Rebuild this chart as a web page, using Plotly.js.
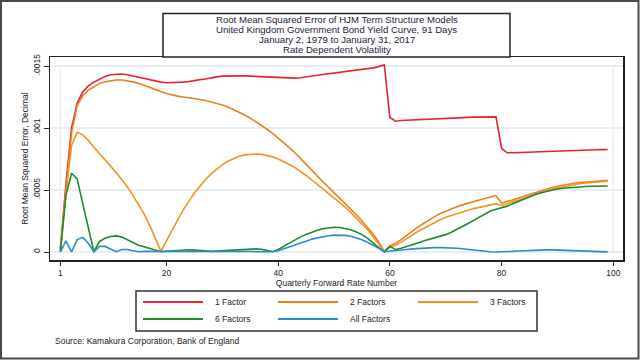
<!DOCTYPE html>
<html><head><meta charset="utf-8">
<script src="https://cdn.plot.ly/plotly-3.0.1.min.js"></script>
<style>html,body{margin:0;padding:0;background:#fff}#chart{width:640px;height:360px}</style>
</head><body><div id="chart"></div>
<script>
// Quarterly forward rate number (category index 1..99)
const forwardRate = Array.from({length: 99}, (_, i) => i + 1);
// RMSE values, in units of 1e-4
const UNIT = 1e-4;
const oneFactor = [0.2,5.5,10.0,12.0,12.9,13.4,13.7,13.95,14.15,14.3,
14.35,14.35,14.3,14.2,14.1,14.0,13.85,13.75,13.7,13.65,
13.65,13.65,13.7,13.75,13.85,13.9,13.95,14.05,14.12,14.18,
14.2,14.2,14.2,14.2,14.18,14.15,14.12,14.1,14.08,14.05,
14.03,14.02,14.02,14.05,14.1,14.18,14.25,14.32,14.38,14.45,
14.5,14.55,14.6,14.65,14.7,14.78,14.85,14.95,15.1,10.85,
10.55,10.6,10.62,10.65,10.68,10.7,10.74,10.77,10.8,10.82,
10.84,10.85,10.86,10.87,10.88,10.88,10.89,10.9,10.9,8.35,
8.0,8.0,8.02,8.04,8.06,8.08,8.1,8.12,8.14,8.16,
8.18,8.2,8.21,8.22,8.23,8.24,8.25,8.26,8.27];
const twoFactors = [0.2,5.0,9.6,11.8,12.6,13.05,13.35,13.58,13.73,13.83,
13.87,13.87,13.82,13.72,13.6,13.45,13.3,13.12,12.95,12.78,
12.65,12.57,12.5,12.45,12.38,12.3,12.22,12.12,12.0,11.86,
11.7,11.5,11.28,11.05,10.8,10.52,10.22,9.9,9.56,9.2,
8.82,8.42,8.0,7.56,7.1,6.6,6.12,5.68,5.25,4.82,
4.38,3.93,3.48,3.0,2.5,2.0,1.45,0.8,0.05,0.5,
0.7,1.0,1.35,1.7,2.0,2.3,2.6,2.85,3.1,3.3,
3.5,3.65,3.8,3.95,4.08,4.2,4.32,4.44,4.55,3.95,
4.05,4.2,4.35,4.5,4.65,4.8,4.95,5.08,5.2,5.3,
5.4,5.48,5.55,5.6,5.65,5.69,5.72,5.74,5.76];
const threeFactors = [0.2,4.8,8.6,9.65,9.45,9.0,8.45,7.95,7.45,6.95,
6.4,5.85,5.25,4.55,3.85,3.05,2.15,1.1,0.05,0.9,
1.8,2.6,3.4,4.1,4.75,5.3,5.85,6.3,6.7,7.05,
7.32,7.55,7.72,7.83,7.89,7.9,7.87,7.8,7.67,7.5,
7.3,7.06,6.8,6.5,6.17,5.82,5.46,5.1,4.75,4.4,
4.02,3.62,3.2,2.76,2.3,1.8,1.25,0.65,0.03,0.4,
0.55,0.8,1.1,1.4,1.65,1.9,2.15,2.4,2.6,2.8,
2.95,3.1,3.25,3.4,3.5,3.6,3.7,3.8,3.9,3.75,
3.9,4.05,4.2,4.35,4.5,4.65,4.8,4.95,5.05,5.15,
5.25,5.35,5.43,5.5,5.56,5.61,5.65,5.68,5.7];
const sixFactors = [0.0,4.6,6.35,5.9,3.9,1.95,0.02,0.85,1.1,1.25,
1.3,1.2,0.98,0.72,0.55,0.42,0.28,0.14,0.02,0.06,
0.1,0.14,0.16,0.18,0.15,0.1,0.06,0.05,0.07,0.1,
0.13,0.16,0.19,0.21,0.24,0.25,0.22,0.12,0.03,0.2,
0.45,0.75,1.0,1.22,1.42,1.6,1.75,1.87,1.96,2.0,
1.98,1.92,1.8,1.62,1.4,1.1,0.75,0.38,0.0,0.45,
0.2,0.3,0.42,0.55,0.72,0.88,1.0,1.12,1.24,1.4,
1.6,1.82,2.05,2.3,2.55,2.8,3.05,3.3,3.45,3.55,
3.7,3.9,4.1,4.3,4.48,4.64,4.78,4.9,5.0,5.08,
5.14,5.19,5.23,5.26,5.28,5.3,5.31,5.32,5.32];
const allFactors = [0.0,0.9,0.0,1.0,1.18,0.7,0.0,0.45,0.45,0.25,
0.03,0.2,0.2,0.1,0.02,0.05,0.06,0.05,0.02,0.04,
0.05,0.05,0.04,0.03,0.03,0.04,0.05,0.05,0.04,0.04,
0.05,0.05,0.05,0.05,0.04,0.03,0.03,0.02,0.02,0.1,
0.25,0.43,0.6,0.76,0.9,1.03,1.14,1.24,1.31,1.36,
1.37,1.34,1.27,1.15,0.98,0.78,0.55,0.3,0.02,0.05,
0.1,0.15,0.2,0.25,0.29,0.32,0.34,0.35,0.35,0.35,
0.33,0.3,0.26,0.2,0.15,0.1,0.05,0.02,0.0,0.0,
0.02,0.05,0.08,0.11,0.13,0.15,0.16,0.17,0.17,0.16,
0.15,0.14,0.12,0.1,0.08,0.06,0.04,0.02,0.01];

const seriesNames = ['1 Factor', '2 Factors', '3 Factors', '6 Factors', 'All Factors'];
const seriesData = [oneFactor, twoFactors, threeFactors, sixFactors, allFactors];
const seriesColors = ['#e8232b', '#ee7f1d', '#f7921f', '#1f8a2a', '#2a8dc6'];

const titleLines = ['Root Mean Squared Error of HJM Term Structure Models',
  'United Kingdom Government Bond Yield Curve, 91 Days',
  'January 2, 1979 to January 31, 2017',
  'Rate Dependent Volatility'];
const xTitle = 'Quarterly Forward Rate Number';
const yTitle = 'Root Mean Squared Error, Decimal';
const sourceNote = 'Source: Kamakura Corporation, Bank of England';
const xTickVals = [1, 20, 40, 60, 80, 100];
const xTickText = ['1', '20', '40', '60', '80', '100'];
const yTickVals = [0, 0.0005, 0.001, 0.0015];
const yTickText = ['0', '.0005', '.001', '.0015'];

// ---- geometry (pixels) ----
const W = 640, H = 360, L = 50, R = 623, T = 57, B = 260;
const px = X => (X - L) / (R - L);
const py = Y => (B - Y) / (B - T);
const FONT = 'Liberation Sans, Arial, sans-serif';
const TXT = '#222';

const traces = seriesData.map((d, i) => ({
  type: 'scatter', mode: 'lines', name: seriesNames[i],
  x: forwardRate, y: d.map(v => v * UNIT),
  line: {color: seriesColors[i], width: 1.6},
  showlegend: false, hoverinfo: 'skip'
}));

const shapes = [];
const annotations = [];
// outer frame
shapes.push({type: 'rect', xref: 'paper', yref: 'paper', x0: px(1), x1: px(638.5), y0: py(358.5), y1: py(1),
  line: {color: '#4a4a4a', width: 2}, layer: 'above'});
// faint inner verticals at ends of x scale
[1, 100].forEach(v => shapes.push({type: 'line', xref: 'x', yref: 'y', x0: v, x1: v, y0: 0, y1: 0.0015,
  line: {color: '#e8eff2', width: 1.5}, layer: 'below'}));
// title box
shapes.push({type: 'rect', xref: 'paper', yref: 'paper', x0: px(163), x1: px(510), y0: py(57), y1: py(13.5),
  line: {color: '#222', width: 1.5}, fillcolor: '#fff'});
const titleY = [19.5, 29.5, 39.5, 49.5];
titleLines.forEach((t, i) => annotations.push({xref: 'paper', yref: 'paper', x: px(336.5), y: py(titleY[i]),
  text: t, showarrow: false, xanchor: 'center', yanchor: 'middle',
  font: {family: FONT, size: 9.6, color: '#1c1c3a'}}));
// legend box
shapes.push({type: 'rect', xref: 'paper', yref: 'paper', x0: px(136), x1: px(537), y0: py(331), y1: py(291),
  line: {color: '#333', width: 1.5}, fillcolor: 'rgba(0,0,0,0)'});
const legCols = [143, 278, 418], legRows = [302, 319];
seriesNames.forEach((n, i) => {
  const cx = legCols[i % 3], cy = legRows[Math.floor(i / 3)];
  shapes.push({type: 'line', xref: 'paper', yref: 'paper', x0: px(cx), x1: px(cx + 60), y0: py(cy), y1: py(cy),
    line: {color: seriesColors[i], width: 2}});
  annotations.push({xref: 'paper', yref: 'paper', x: px(cx + 70), y: py(cy), text: n, showarrow: false,
    xanchor: 'left', yanchor: 'middle', font: {family: FONT, size: 8.5, color: TXT}});
});
// source note
annotations.push({xref: 'paper', yref: 'paper', x: px(53), y: py(341), text: sourceNote, showarrow: false,
  xanchor: 'left', yanchor: 'middle', font: {family: FONT, size: 8.5, color: TXT}});

const layout = {
  width: W, height: H,
  margin: {l: L, r: W - R, t: T, b: H - B, pad: 0},
  paper_bgcolor: '#fff', plot_bgcolor: '#fff',
  font: {family: FONT, color: TXT, size: 9},
  xaxis: {range: [-0.86, 101.74], tickvals: xTickVals, ticktext: xTickText,
    ticks: 'outside', ticklen: 4, tickwidth: 1, tickcolor: '#222',
    showline: true, linecolor: '#222', linewidth: 1.5, mirror: true,
    showgrid: false, zeroline: false, tickfont: {size: 8.5, color: TXT},
    title: {text: xTitle, font: {size: 8.5, color: TXT}, standoff: 1}},
  yaxis: {range: [-0.0000645, 0.0015726], tickvals: yTickVals, ticktext: yTickText,
    tickangle: -90, ticks: 'outside', ticklen: 5, tickwidth: 1, tickcolor: '#222',
    showline: true, linecolor: '#222', linewidth: 1.5, mirror: true,
    showgrid: true, gridcolor: '#e8eff2', gridwidth: 1.5, zeroline: false,
    tickfont: {size: 8.5, color: TXT},
    title: {text: yTitle, font: {size: 8.5, color: TXT}, standoff: 2}},
  shapes: shapes, annotations: annotations, showlegend: false
};

Plotly.newPlot('chart', traces, layout, {displayModeBar: false, staticPlot: true});
</script>
</body></html>
